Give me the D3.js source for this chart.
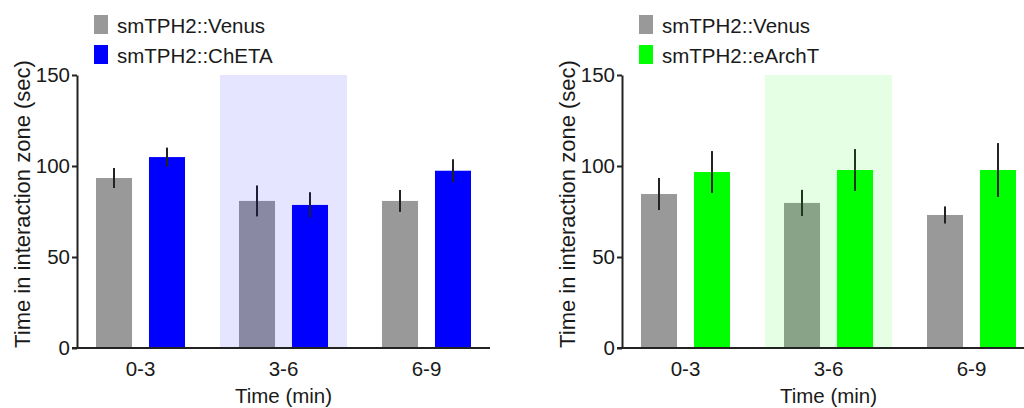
<!DOCTYPE html>
<html>
<head>
<meta charset="utf-8">
<script src="https://cdn.jsdelivr.net/npm/d3@7"></script>
<style>
  body { margin: 0; background: #fff; }
  svg { display: block; font-family: "Liberation Sans", Arial, sans-serif; }
</style>
</head>
<body>
<div id="chart"></div>
<script>
const periods = ["0-3", "3-6", "6-9"];
const yTicks = [0, 50, 100, 150];

// left panel: ChETA
const venusA = [93.4, 80.8, 80.8];
const venusAErr = [5.5, 8.5, 6.0];
const chetaMean = [104.9, 78.6, 97.4];
const chetaErr = [5.2, 7.0, 6.3];

// right panel: eArchT
const venusB = [84.6, 79.7, 73.1];
const venusBErr = [8.8, 7.2, 4.7];
const archMean = [96.7, 97.8, 97.8];
const archErr = [11.5, 11.5, 14.8];

const W = 1024, H = 408;
const svg = d3.select("#chart").append("svg")
  .attr("width", W).attr("height", H);

const y = d3.scaleLinear().domain([0, 150]).range([348, 75]);

const drawPanel = (dx, venus, venusErr, opto, optoErr, optoName, optoColor) => {
  const g = svg.append("g").attr("transform", `translate(${dx},0)`);
  const x = d3.scaleBand().domain(periods).range([69, 498]).padding(0);
  const inner = d3.scaleBand().domain(["venus", "opto"])
    .range([-44.5, 44.5]).paddingInner(0.32).paddingOuter(0);

  const rows = periods.map((p, i) => [
    {p, s: "venus", v: venus[i], e: venusErr[i], c: "#999999"},
    {p, s: "opto", v: opto[i], e: optoErr[i], c: optoColor}
  ]).flat();

  const cx = d => x(d.p) + x.bandwidth() / 2 + inner(d.s);

  g.selectAll(".bar")
    .data(rows)
  .enter().append("rect")
    .attr("class", "bar")
    .attr("x", d => cx(d))
    .attr("width", inner.bandwidth())
    .attr("y", d => y(d.v))
    .attr("height", d => y(0) - y(d.v))
    .attr("fill", d => d.c);

  g.selectAll(".err")
    .data(rows)
  .enter().append("line")
    .attr("class", "err")
    .attr("x1", d => cx(d) + inner.bandwidth() / 2)
    .attr("x2", d => cx(d) + inner.bandwidth() / 2)
    .attr("y1", d => y(d.v + d.e))
    .attr("y2", d => y(d.v - d.e))
    .attr("stroke", "#222")
    .attr("stroke-width", 2);

  // stimulation window shading, drawn on top with low alpha
  g.append("rect")
    .attr("x", x("3-6") + 8)
    .attr("width", x.bandwidth() - 16)
    .attr("y", y(150))
    .attr("height", y(0) - y(150))
    .attr("fill", optoColor)
    .attr("fill-opacity", 0.1);

  // y axis
  const yAxis = g.append("g")
    .attr("transform", "translate(77,0)")
    .call(d3.axisLeft(y).tickValues(yTicks).tickSize(5).tickSizeOuter(0).tickPadding(2));
  yAxis.select(".domain").attr("stroke", "#222").attr("stroke-width", 2);
  yAxis.selectAll(".tick line").attr("stroke", "#222").attr("stroke-width", 2);
  yAxis.selectAll(".tick text").attr("font-size", 20.5).attr("fill", "#1a1a1a")
    .attr("font-family", "Liberation Sans, Arial, sans-serif");

  // x axis
  const xAxis = g.append("g")
    .attr("transform", `translate(0,${y(0)})`)
    .call(d3.axisBottom(x).tickSize(0).tickPadding(13));
  xAxis.select(".domain").remove();
  xAxis.selectAll(".tick text").attr("font-size", 20.5).attr("fill", "#1a1a1a")
    .attr("font-family", "Liberation Sans, Arial, sans-serif");
  g.append("line")
    .attr("x1", 72).attr("x2", x.range()[1] - 8)
    .attr("y1", y(0)).attr("y2", y(0))
    .attr("stroke", "#222").attr("stroke-width", 2);

  g.append("text")
    .attr("x", (77 + x.range()[1] - 8) / 2)
    .attr("y", 403)
    .attr("text-anchor", "middle")
    .attr("font-size", 20.5).attr("fill", "#1a1a1a")
    .text("Time (min)");

  g.append("text")
    .attr("transform", "translate(30,204) rotate(-90)")
    .attr("text-anchor", "middle")
    .attr("font-size", 22).attr("fill", "#1a1a1a")
    .text("Time in interaction zone (sec)");

  // legend
  const leg = [{n: "smTPH2::Venus", c: "#999999"}, {n: optoName, c: optoColor}];
  const lg = g.selectAll(".leg")
    .data(leg)
  .enter().append("g")
    .attr("class", "leg")
    .attr("transform", (d, i) => `translate(94,${33 + i * 30})`);
  lg.append("rect")
    .attr("x", 0).attr("y", -18).attr("width", 14).attr("height", 19)
    .attr("fill", d => d.c);
  lg.append("text")
    .attr("x", 23).attr("y", 0)
    .attr("font-size", 20.5).attr("fill", "#1a1a1a")
    .text(d => d.n);
};

drawPanel(0, venusA, venusAErr, chetaMean, chetaErr, "smTPH2::ChETA", "#0000ff");
drawPanel(545, venusB, venusBErr, archMean, archErr, "smTPH2::eArchT", "#00ff00");
</script>
</body>
</html>
